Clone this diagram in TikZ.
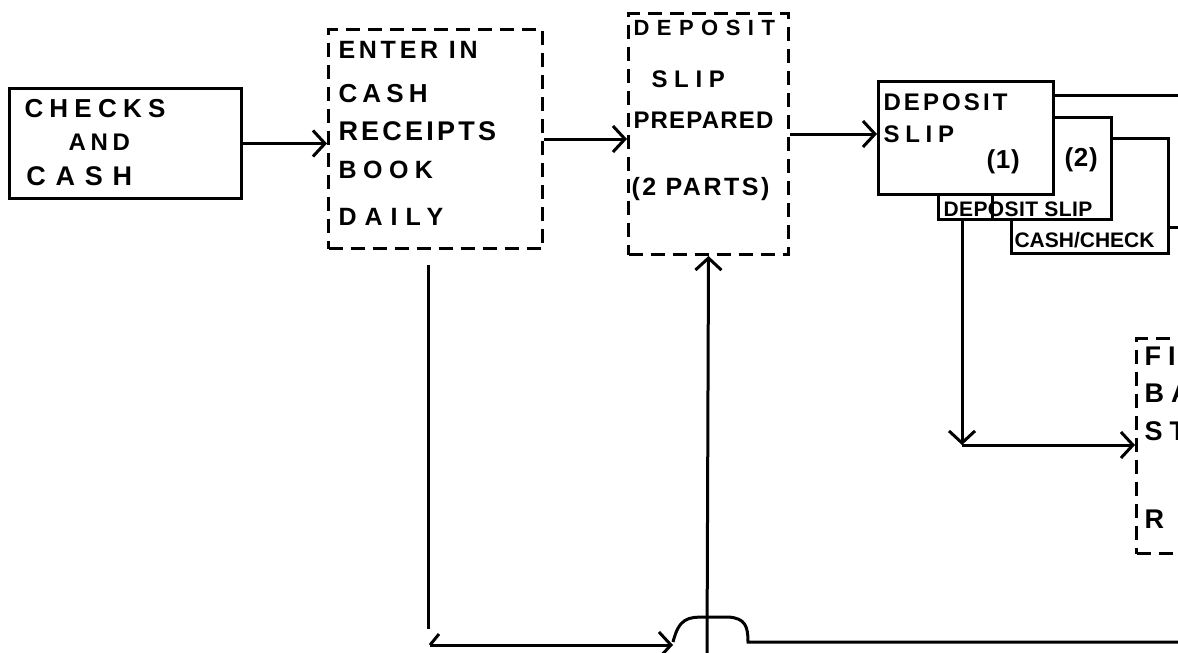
\documentclass[tikz,border=0pt]{standalone}
\usepackage{fontspec}
\setmainfont{Liberation Sans}
\usetikzlibrary{arrows.meta,calc}
\newcommand{\hw}[3]{\fontsize{#1pt}{#1pt}\selectfont\bfseries\addfontfeature{LetterSpace=#2}#3}
\begin{document}
\begin{tikzpicture}[x=1pt,y=-1pt, line width=3pt,
  solidbox/.style={draw, line width=3pt, fill=white, inner sep=0pt, anchor=north west},
  dashbox/.style={draw, line width=3pt, dash pattern=on 14pt off 8pt, inner sep=0pt, anchor=north west},
  lbl/.style={anchor=base west, inner sep=0pt},
  arr/.style={-{Straight Barb[length=12pt,width=26pt]}}]
\useasboundingbox (0,0) rectangle (1178,653);
\clip (0,0) rectangle (1178,653);

% boxes
\node[solidbox, minimum width=232pt, minimum height=110pt] (A) at (8,87) {};
\node[dashbox, minimum width=214pt, minimum height=219pt] (B) at (327,28) {};
\node[dashbox, minimum width=160pt, minimum height=241pt] (C) at (627,12) {};
\node[solidbox, minimum width=157pt, minimum height=115pt] (S3) at (1010,137) {};
\node[solidbox, minimum width=173pt, minimum height=102pt] (S2) at (937,116) {};
\node[solidbox, minimum width=175pt, minimum height=113pt] (D) at (877,80) {};
\node[dashbox, minimum width=140pt, minimum height=215pt] (E) at (1135,337) {};
\draw (992,193) -- (992,218);

% texts
\node[lbl] (tA1) at (23,117) {\hw{26}{24}{CHECKS}};
\node[lbl] (tA2) at (67,150) {\hw{24}{20}{AND}};
\node[lbl] (tA3) at (25,185) {\hw{27}{36}{CASH}};

\node[lbl] (tB1) at (337,58) {\hw{25}{15}{ENTER IN}};
\node[lbl] (tB2) at (337,102) {\hw{26}{20}{CASH}};
\node[lbl] (tB3) at (337,140) {\hw{27}{12}{RECEIPTS}};
\node[lbl] (tB4) at (337,178) {\hw{25}{26}{BOOK}};
\node[lbl] (tB5) at (337,225) {\hw{25}{32}{DAILY}};

\node[lbl] (tC1) at (632,35) {\hw{22}{34}{DEPOSIT}};
\node[lbl] (tC2) at (650,87) {\hw{24}{28}{SLIP}};
\node[lbl] (tC3) at (632,128) {\hw{24}{5}{PREPARED}};
\node[lbl] (tC4) at (630,195) {\hw{25}{10}{(2 PARTS)}};

\node[lbl] (tD1) at (882,110) {\hw{24}{13}{DEPOSIT}};
\node[lbl] (tD2) at (882,142) {\hw{24}{24}{SLIP}};
\node[lbl] (tD3) at (985,168) {\hw{26}{3}{(1)}};
\node[lbl] (tS2) at (1063,166) {\hw{26}{3}{(2)}};
\node[lbl] (tS2b) at (942,216) {\hw{21}{2}{DEPOSIT SLIP}};
\node[lbl] (tS3) at (1013,247) {\hw{21}{0}{CASH/CHECK}};

\node[lbl] (tE1) at (1143,365) {\hw{27}{26}{FI}};
\node[lbl] (tE2) at (1143,402) {\hw{27}{26}{BA}};
\node[lbl] (tE3) at (1143,440) {\hw{27}{26}{ST}};
\node[lbl] (tE4) at (1143,528) {\hw{27}{26}{R}};

% connectors
\draw[arr] (A.east) -- (A.east -| B.west);
\draw[arr] (B.east) -- (B.east -| C.west);
\draw[arr] (C.east) -- (C.east -| D.west);
\coordinate (outD) at (1178,95);
\draw (D.north east |- outD) -- (outD);
\coordinate (out3) at (1178,227);
\draw (S3.east |- out3) -- (out3);
\coordinate (corner) at (962,445);
\draw[arr] (S2.south -| corner) -- (corner);
\draw[arr] (corner) -- (corner -| E.west);

\coordinate (b1) at (428,629);
\draw (B.south -| b1) ++(0,15) -- (b1);
\coordinate (b2) at (430,645);
\coordinate (hump1) at (673,645);
\draw[arr] (b2) -- (hump1);
\draw (b2) -- ++(9,-11);
\coordinate (out4) at (1178,642);
\draw (hump1) ++(0,-3) .. controls (679,618) and (688,617) .. (705,617) -- (728,617) .. controls (745,618) and (748,626) .. (748,642) -- (out4);
\coordinate (c0) at (707,653);
\draw[arr] (c0) -- (C.south);
\end{tikzpicture}
\end{document}
